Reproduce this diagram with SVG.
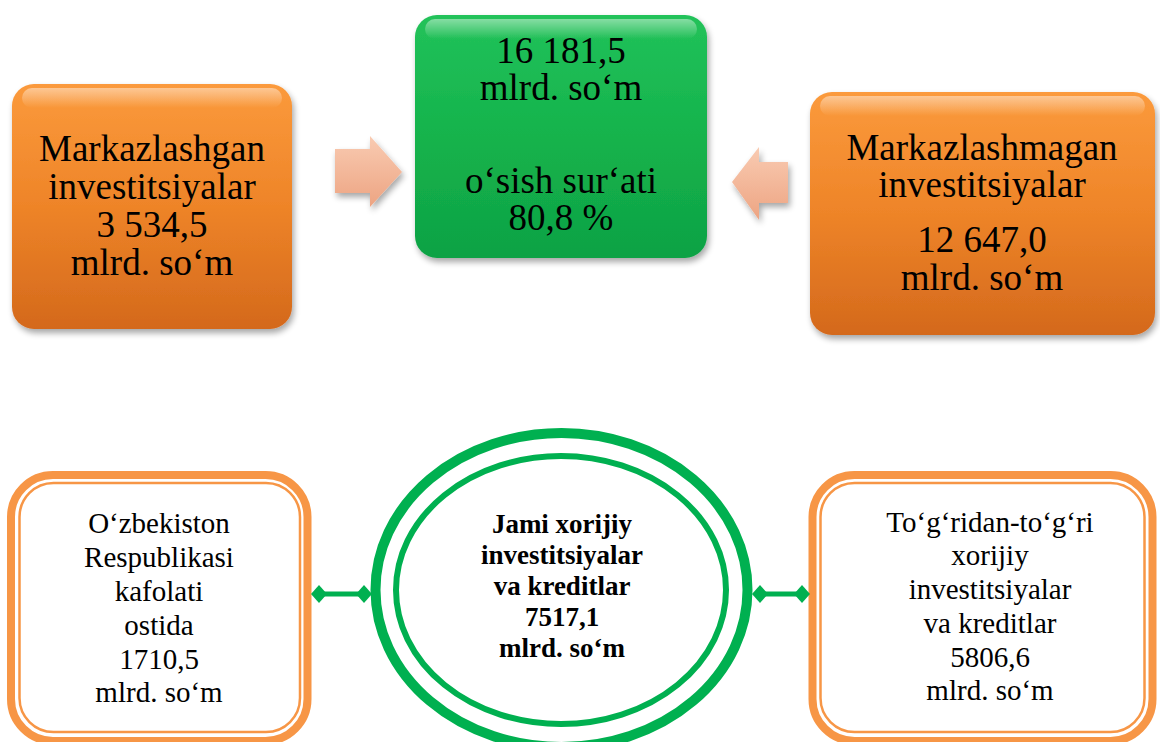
<svg xmlns="http://www.w3.org/2000/svg" width="1160" height="742" viewBox="0 0 1160 742">
<defs>
<linearGradient id="gOrange" x1="0" y1="0" x2="0" y2="1">
<stop offset="0" stop-color="#fb9a3c"/>
<stop offset="0.5" stop-color="#ee8428"/>
<stop offset="1" stop-color="#d4691c"/>
</linearGradient>
<linearGradient id="gGreen" x1="0" y1="0" x2="0" y2="1">
<stop offset="0" stop-color="#22c25a"/>
<stop offset="0.5" stop-color="#15b34c"/>
<stop offset="1" stop-color="#0ea244"/>
</linearGradient>
<linearGradient id="gArrow" x1="0" y1="0" x2="0" y2="1">
<stop offset="0" stop-color="#f9cbb2"/>
<stop offset="1" stop-color="#eda482"/>
</linearGradient>
<linearGradient id="gGloss" x1="0" y1="0" x2="0" y2="1">
<stop offset="0" stop-color="#ffffff" stop-opacity="0.45"/>
<stop offset="1" stop-color="#ffffff" stop-opacity="0"/>
</linearGradient>
<filter id="shadow" x="-10%" y="-10%" width="125%" height="125%">
<feGaussianBlur in="SourceAlpha" stdDeviation="3"/>
<feOffset dx="2" dy="4" result="b"/>
<feComponentTransfer><feFuncA type="linear" slope="0.35"/></feComponentTransfer>
<feMerge><feMergeNode/><feMergeNode in="SourceGraphic"/></feMerge>
</filter>
<marker id="dia" viewBox="0 0 16 18" refX="8" refY="9" markerWidth="16" markerHeight="18" markerUnits="userSpaceOnUse" orient="auto">
<path d="M0,9 L8,0 L16,9 L8,18 Z" fill="#00b050"/>
</marker>
</defs>
<style>
.t{font-family:"Liberation Serif","Times New Roman",serif;fill:#000;text-anchor:middle}
.big{font-size:37px}
.mid{font-size:29px}
.bold{font-size:27px;font-weight:bold}
.ob{stroke:#f79646;fill:#fff}
.ring{fill:none;stroke:#00b050}
.conn{stroke:#00b050;stroke-width:5;fill:none}
</style>

<g id="node-markazlashgan">
<rect x="12" y="84" width="280" height="245" rx="22" fill="url(#gOrange)" filter="url(#shadow)"/>
<rect x="22" y="88" width="260" height="20" rx="10" fill="url(#gGloss)"/>
<text class="t big"><tspan x="152" y="161">Markazlashgan</tspan><tspan x="152" y="199">investitsiyalar</tspan><tspan x="152" y="237">3 534,5</tspan><tspan x="152" y="275">mlrd. so‘m</tspan></text>
</g>

<g id="node-jami">
<rect x="415" y="15" width="292" height="243" rx="22" fill="url(#gGreen)" filter="url(#shadow)"/>
<rect x="425" y="19" width="272" height="20" rx="10" fill="url(#gGloss)"/>
<text class="t big"><tspan x="561" y="63">16 181,5</tspan><tspan x="561" y="100">mlrd. so‘m</tspan><tspan x="561" y="193">o‘sish sur‘ati</tspan><tspan x="561" y="230">80,8 %</tspan></text>
</g>

<g id="node-markazlashmagan">
<rect x="810" y="92" width="345" height="243" rx="22" fill="url(#gOrange)" filter="url(#shadow)"/>
<rect x="820" y="96" width="325" height="20" rx="10" fill="url(#gGloss)"/>
<text class="t big"><tspan x="982" y="160">Markazlashmagan</tspan><tspan x="982" y="197">investitsiyalar</tspan><tspan x="982" y="252">12 647,0</tspan><tspan x="982" y="290">mlrd. so‘m</tspan></text>
</g>

<g id="node-kafolat">
<rect class="ob" x="11" y="475" width="296.5" height="266" rx="42" stroke-width="8"/>
<rect x="19.5" y="483" width="280.5" height="249" rx="34" fill="none" stroke="#f79646" stroke-width="2.5"/>
<text class="t mid"><tspan x="159" y="533">O‘zbekiston</tspan><tspan x="159" y="567">Respublikasi</tspan><tspan x="159" y="601">kafolati</tspan><tspan x="159" y="635">ostida</tspan><tspan x="159" y="669">1710,5</tspan><tspan x="159" y="702">mlrd. so‘m</tspan></text>
</g>

<g id="node-xorijiy">
<ellipse cx="561.5" cy="590" rx="186" ry="157" fill="#fff" class="ring" stroke-width="10"/>
<ellipse cx="561" cy="590" rx="165" ry="134" class="ring" stroke-width="6"/>
<text class="t bold"><tspan x="562" y="533">Jami xorijiy</tspan><tspan x="562" y="564">investitsiyalar</tspan><tspan x="562" y="595">va kreditlar</tspan><tspan x="562" y="626">7517,1</tspan><tspan x="562" y="657">mlrd. so‘m</tspan></text>
</g>

<g id="node-togridan">
<rect class="ob" x="812.5" y="475" width="340" height="266" rx="42" stroke-width="8"/>
<rect x="820.5" y="483" width="324" height="249" rx="34" fill="none" stroke="#f79646" stroke-width="2.5"/>
<text class="t mid"><tspan x="990" y="532">To‘g‘ridan-to‘g‘ri</tspan><tspan x="990" y="565">xorijiy</tspan><tspan x="990" y="599">investitsiyalar</tspan><tspan x="990" y="633">va kreditlar</tspan><tspan x="990" y="667">5806,6</tspan><tspan x="990" y="700">mlrd. so‘m</tspan></text>
</g>

<g id="connectors">
<path d="M335,149 L370,149 L370,136 L402,172 L370,207 L370,193 L335,193 Z" fill="url(#gArrow)" filter="url(#shadow)"/>
<path d="M788,162 L759,162 L759,147 L732,182 L759,220 L759,203 L788,203 Z" fill="url(#gArrow)" filter="url(#shadow)"/>
<line class="conn" x1="319" y1="594" x2="364" y2="594" marker-start="url(#dia)" marker-end="url(#dia)"/>
<line class="conn" x1="760" y1="594" x2="802" y2="594" marker-start="url(#dia)" marker-end="url(#dia)"/>
</g>
</svg>
